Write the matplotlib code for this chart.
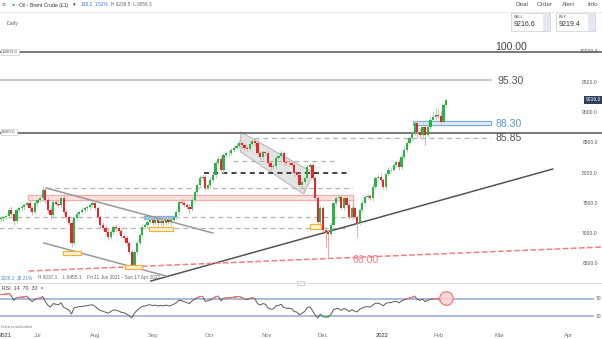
import numpy as np
import pandas as pd
import matplotlib
matplotlib.use('Agg')
from matplotlib import pyplot as plt
from matplotlib.patches import Rectangle, Polygon

plt.rcParams['font.family'] = ['Liberation Sans', 'DejaVu Sans']

# daily closes (x100), Fri 11 Jun 2021 -> Fri 4 Feb 2022, one per trading day
closes = [7260, 7280, 7300, 7390, 7330, 7210, 7390, 7420, 7440, 7470,
          7510, 7420, 7360, 7500, 7560, 7590, 7720, 7560, 7390, 7310,
          7525, 7490, 7470, 7590, 7360, 7280, 7180, 6850, 7260, 7330,
          7360, 7390, 7420, 7440, 7480, 7500, 7420, 7280, 7150, 7100,
          7030, 6950, 7030, 7110, 7090, 7040, 6960, 6930, 6850, 6700,
          6490, 6700, 6850, 6980, 7110, 7140, 7200, 7230, 7180, 7220,
          7170, 7210, 7180, 7230, 7190, 7220, 7280, 7360, 7530, 7510,
          7480, 7440, 7410, 7560, 7690, 7800, 7920, 7940, 7760, 7800,
          7880, 7970, 8170, 8235, 8050, 8300, 8330, 8340, 8380, 8420,
          8450, 8500, 8460, 8420, 8400, 8480, 8530, 8500, 8330, 8270,
          8350, 8330, 8170, 8100, 8110, 8250, 8280, 8340, 8190, 8170,
          8160, 8140, 8000, 7970, 7800, 7860, 7920, 8100, 8130, 7920,
          7590, 7195, 7420, 7060, 7030, 7000, 7150, 7500, 7590, 7600,
          7430, 7590, 7480, 7280, 7420, 7280, 7180, 7390, 7510, 7600,
          7620, 7590, 7770, 7920, 7940, 7880, 7770, 7980, 8050, 8060,
          8140, 8180, 8100, 8270, 8380, 8500, 8580, 8660, 8830, 8680,
          8630, 8760, 8630, 8760, 8880, 8930, 8960, 8950, 8850, 9130,
          9210]
first_open = 7240

up_wick = [40, 30, 50, 40, 60, 30, 40, 30, 50, 40,
           30, 50, 40, 40, 30, 40, 60, 50, 40, 50,
           30, 40, 50, 30, 60, 40, 30, 40, 30, 40,
           30, 50, 30, 40, 30, 40, 50, 40, 30, 50,
           40, 60, 40, 30, 50, 40, 30, 40, 50, 30,
           40, 30, 40, 30, 50, 40, 30, 40, 50, 30,
           40, 30, 50, 40, 30, 40, 30, 40, 50, 60,
           40, 30, 50, 40, 30, 40, 50, 40, 30, 40,
           50, 40, 30, 40, 60, 40, 30, 50, 40, 30,
           40, 50, 30, 40, 30, 50, 40, 30, 60, 40,
           30, 40, 50, 30, 40, 30, 40, 50, 30, 40,
           30, 40, 50, 30, 40, 30, 40, 50, 30, 40,
           40, 30, 60, 40, 50, 30, 40, 30, 40, 50,
           40, 30, 40, 50, 30, 40, 30, 40, 50, 40,
           30, 40, 50, 40, 30, 60, 40, 30, 50, 40,
           30, 40, 50, 40, 60, 30, 40, 50, 40, 30,
           60, 80, 50, 80, 60, 100, 120, 90, 80, 30,
           30]
dn_wick = [40, 50, 30, 40, 30, 60, 40, 30, 40, 50,
           30, 40, 50, 30, 40, 30, 40, 50, 40, 60,
           30, 40, 30, 50, 40, 30, 40, 70, 40, 30,
           40, 30, 50, 40, 30, 40, 30, 40, 50, 40,
           30, 50, 40, 30, 40, 50, 30, 40, 50, 40,
           40, 50, 30, 40, 30, 40, 50, 30, 40, 30,
           40, 30, 50, 40, 30, 40, 30, 40, 50, 30,
           40, 30, 60, 40, 30, 40, 50, 30, 40, 30,
           40, 30, 50, 40, 30, 40, 30, 50, 40, 30,
           40, 30, 50, 40, 30, 40, 30, 50, 40, 30,
           40, 30, 50, 40, 30, 40, 30, 40, 50, 30,
           40, 30, 50, 40, 30, 40, 30, 40, 50, 30,
           40, 50, 40, 30, 260, 400, 40, 30, 40, 50,
           30, 40, 50, 30, 40, 30, 230, 40, 30, 40,
           30, 40, 50, 30, 40, 30, 40, 50, 30, 40,
           30, 40, 50, 30, 40, 30, 40, 50, 30, 100,
           50, 40, 165, 40, 30, 40, 50, 40, 40, 30,
           40]

# closes before the visible window, used only to warm up the RSI
prior_closes = [6870, 6950, 6900, 6670, 6510, 6640, 6850, 6860, 6890, 6950,
                6960, 7030, 7140, 7130, 7190, 7150, 7220, 7220, 7250]

month_pos = [1.9, 14.1, 35.9, 58.0, 79.8, 101.5, 122.9, 145.8, 167.2, 190.5, 216.8]
month_labels = ['2021', 'Jul', 'Aug', 'Sep', 'Oct', 'Nov', 'Dec', '2022', 'Feb', 'Mar', 'Apr']
price_ticks = [6500, 7000, 7500, 8000, 8500, 9000, 9500, 10000]

# drawn objects: (price, x from, x to)
solid_levels = [(10000, -1, 231), (8660, -1, 231)]
grey_dashed = [(8585, 96.6, 187), (8200, 88.5, 128), (7755, 17.2, 134.4),
               (7276, -1, 135.5), (7094, -1, 131.7)]
black_dashed = [(8000, 77.5, 132.8)]
trend_lines = [((57.3, 6219), (210.7, 8068), '#555555', '-'),
               ((17.2, 7755), (80.9, 7012), '#999999', '-'),
               ((16.4, 6847), (63.0, 6302), '#999999', '-'),
               ((10.7, 6384), (229.8, 6780), '#f08080', '--')]
channel = [(91.6, 8680), (119.5, 8002), (115.6, 7656), (91.6, 8349)]
pink_box = (10.3, 134.4, 7557, 7640)
blue_boxes = [(54.6, 65.6, 7243, 7292), (157.3, 187.0, 8795, 8860)]
orange_boxes = [(23.7, 30.5, 6648, 6715), (47.3, 53.8, 6417, 6483),
                (56.5, 65.6, 7045, 7111), (117.9, 122.1, 7078, 7160)]
level_labels = [('100.00', 188.8, 10075, '#444444'), ('95.30', 189.6, 9525, '#555555'),
                ('88.30', 188.8, 8815, '#5b9bd5'), ('85.85', 188.8, 8580, '#555555'),
                ('66.00', 134.4, 6560, '#f08080')]

W, H = 602, 339


def fx(x):
    return x / W


def fy(y):
    return 1 - y / H


fig = plt.figure(figsize=(W / 100, H / 100), dpi=100)
fig.patch.set_facecolor('white')

ax = fig.add_axes([0, fy(282), 1, (282 - 12) / H])
ax.set_xlim(-0.3, 229.5)
ax.set_ylim(10000 - 230 * 16.51, 10000 + 40 * 16.51)
ax.axis('off')

closes_a = np.array(closes, dtype=float)
opens_a = np.concatenate([[first_open], closes_a[:-1]])
idx = np.arange(len(closes_a))
highs = np.maximum(opens_a, closes_a) + np.array(up_wick)
lows = np.minimum(opens_a, closes_a) - np.array(dn_wick)
up = closes_a >= opens_a

# levels and drawings
for p, a, b in solid_levels:
    ax.plot([a, b], [p, p], color='#6e6e6e', lw=1.3, zorder=2)
ax.plot([-1, 187], [9530, 9530], color='#c9c9c9', lw=1.5, zorder=2)
for p, a, b in grey_dashed:
    ax.plot([a, b], [p, p], color='#b5b5b5', lw=0.9, ls=(0, (4, 3)), zorder=2)
for p, a, b in black_dashed:
    ax.plot([a, b], [p, p], color='#222222', lw=1.2, ls=(0, (3, 2.5)), zorder=2)
for (x0, y0), (x1, y1), c, ls in trend_lines:
    ax.plot([x0, x1], [y0, y1], color=c, lw=1.1, ls=ls, zorder=2)
ax.add_patch(Polygon(channel, closed=True, facecolor='#dcdcdc', edgecolor='#aaaaaa',
                     lw=0.8, alpha=0.8, zorder=1))
a, b, lo, hi = pink_box
ax.add_patch(Rectangle((a, lo), b - a, hi - lo, facecolor='#fbdada', edgecolor='#f09a9a',
                       lw=0.9, alpha=0.8, zorder=1))
ax.plot([b, b], [lo, 7420], color='#f09a9a', lw=0.9, zorder=1)
for i, (a, b, lo, hi) in enumerate(blue_boxes):
    fc = '#a9c8ea' if i == 0 else '#e3eefa'
    ax.add_patch(Rectangle((a, lo), b - a, hi - lo, facecolor=fc, edgecolor='#7faee0',
                           lw=0.9, zorder=1))
for a, b, lo, hi in orange_boxes:
    ax.add_patch(Rectangle((a, lo), b - a, hi - lo, facecolor='#fff4d8', edgecolor='#f2b23a',
                           lw=0.9, zorder=4))

# candles
wick_col = np.where(up, '#a6dca6', '#f5a8a8')
ax.vlines(idx, lows, highs, colors=wick_col, lw=0.7, zorder=3)
body = np.where(np.abs(closes_a - opens_a) < 10, 10, closes_a - opens_a)
ax.bar(idx, body, bottom=opens_a, width=0.85, color=np.where(up, '#2db24a', '#e5262e'),
       linewidth=0, zorder=3)

for txt, x, y, c in level_labels:
    ax.text(x, y, txt, color=c, fontsize=7.6, ha='left', va='center', zorder=5)

# right-side price scale
for v in price_ticks:
    ax.text(0.993, v, f'{v:.1f}', transform=ax.get_yaxis_transform(), ha='right',
            va='center', fontsize=3.6, color='#555555')
ax.text(0.999, closes[-1], f'{closes[-1] + 6:.1f}', transform=ax.get_yaxis_transform(),
        ha='right', va='center', fontsize=3.6, color='white', zorder=6,
        bbox=dict(boxstyle='square,pad=0.35', facecolor='#2c3e5a', edgecolor='none'))

# RSI panel
full = pd.Series(prior_closes + closes, dtype=float)
delta = full.diff()
gain = delta.clip(lower=0).ewm(alpha=1 / 14, adjust=False).mean()
loss = (-delta.clip(upper=0)).ewm(alpha=1 / 14, adjust=False).mean()
rsi = (100 - 100 / (1 + gain / loss)).to_numpy()[len(prior_closes):]

rax = fig.add_axes([0, fy(322), 1, (322 - 283) / H])
rax.set_xlim(-0.3, 229.5)
rax.set_ylim(30 - (322 - 316) / 0.425, 70 + (299 - 283) / 0.425)
for s in rax.spines.values():
    s.set_visible(False)
rax.set_yticks([])
rax.axhline(70, xmax=0.985, color='#a8bdd6', lw=1.4)
rax.axhline(30, xmax=0.985, color='#a8bdd6', lw=1.4)
rax.text(0.99, 70, '70', transform=rax.get_yaxis_transform(), fontsize=3.6,
         color='#555555', va='center')
rax.text(0.99, 30, '30', transform=rax.get_yaxis_transform(), fontsize=3.6,
         color='#555555', va='center')
rax.plot(idx, rsi, color='#5a5a5a', lw=0.7)
rax.plot(idx, np.ma.masked_where(rsi <= 70, rsi), color='#f07070', lw=0.8)
rax.plot(idx, np.ma.masked_where(rsi >= 30, rsi), color='#3cb44b', lw=0.8)
rax.scatter([idx[-1]], [rsi[-1]], s=95, facecolor='#fbd3d3', edgecolor='#ee7f7f',
            lw=1.0, alpha=0.9, zorder=5)
rax.set_xticks(month_pos)
rax.set_xticklabels(month_labels)
rax.tick_params(axis='x', length=0, pad=8, labelsize=4.2, colors='#777777')
for lbl in rax.get_xticklabels():
    if lbl.get_text() in ('2021', '2022'):
        lbl.set_color('#333333')

# toolbar and frame texts
fig.add_artist(plt.Line2D([0, 1], [fy(11.5), fy(11.5)], color='#e6e6e6', lw=0.6))
fig.add_artist(plt.Line2D([0, 1], [fy(282.5), fy(282.5)], color='#dddddd', lw=0.8))
fig.text(fx(2), fy(5), '≡', fontsize=5, color='#888888', va='center')
fig.text(fx(12), fy(5), '●', fontsize=3.5, color='#2db24a', va='center')
fig.text(fx(19), fy(5), 'Oil - Brent Crude (£1)', fontsize=3.7, color='#333333', va='center')
fig.text(fx(73), fy(5), '▾', fontsize=3.7, color='#333333', va='center')
fig.text(fx(81), fy(5), '138.2', fontsize=3.5, color='#3f7fd0', va='center')
fig.text(fx(95), fy(5), '1.52%', fontsize=3.5, color='#3f7fd0', va='center')
fig.text(fx(111), fy(5), 'H 9238.5  L 9056.3', fontsize=3.4, color='#666666', va='center')
for txt, x in [('Deal', 516), ('Order', 537), ('Alert', 562), ('Info', 587)]:
    fig.text(fx(x), fy(5), txt, fontsize=4.6, color='#555555', va='center')
fig.text(fx(7), fy(23), 'Daily', fontsize=3.8, color='#666666', va='center')
for lab, val, x in [('SELL', '9216.6', 511), ('BUY', '9219.4', 556)]:
    fig.add_artist(Rectangle((fx(x), fy(31)), 39 / W, 18 / H, transform=fig.transFigure,
                             facecolor='white', edgecolor='#cfd6de', lw=0.6))
    fig.add_artist(Rectangle((fx(x + 32), fy(31)), 7 / W, 18 / H, transform=fig.transFigure,
                             facecolor='#e4e9ef', edgecolor='none'))
    fig.text(fx(x + 3), fy(17), lab, fontsize=2.8, color='#444444', va='center')
    fig.text(fx(x + 3), fy(25), val, fontsize=5.0, color='#333333', va='center')
fig.text(fx(2), fy(52), '10000.0', fontsize=3.2, color='#555555', va='center',
         bbox=dict(boxstyle='square,pad=0.3', facecolor='white', edgecolor='#cccccc', lw=0.5))
fig.text(fx(2), fy(132), '8660.0', fontsize=3.2, color='#555555', va='center',
         bbox=dict(boxstyle='square,pad=0.3', facecolor='white', edgecolor='#cccccc', lw=0.5))
fig.text(fx(1), fy(278), '2028.2', fontsize=3.4, color='#5b8fd0', va='center')
fig.text(fx(17), fy(278), '28.21%', fontsize=3.4, color='#5b8fd0', va='center')
fig.text(fx(38), fy(278), 'H 9237.1    L 6455.1    Fri 11 Jun 2021 - Sun 17 Apr 2022',
         fontsize=3.4, color='#666666', va='center')
fig.add_artist(Rectangle((fx(297), fy(284.5)), 7 / W, 4 / H, transform=fig.transFigure,
                         facecolor='white', edgecolor='#bbbbbb', lw=0.5))
fig.text(fx(2), fy(288), 'RSI  14  70  30  ×', fontsize=3.8, color='#444444', va='center')
fig.text(fx(1), fy(327), 'Data is indicative', fontsize=3.0, color='#777777', va='center')

fig.savefig('out.png', dpi=100)
